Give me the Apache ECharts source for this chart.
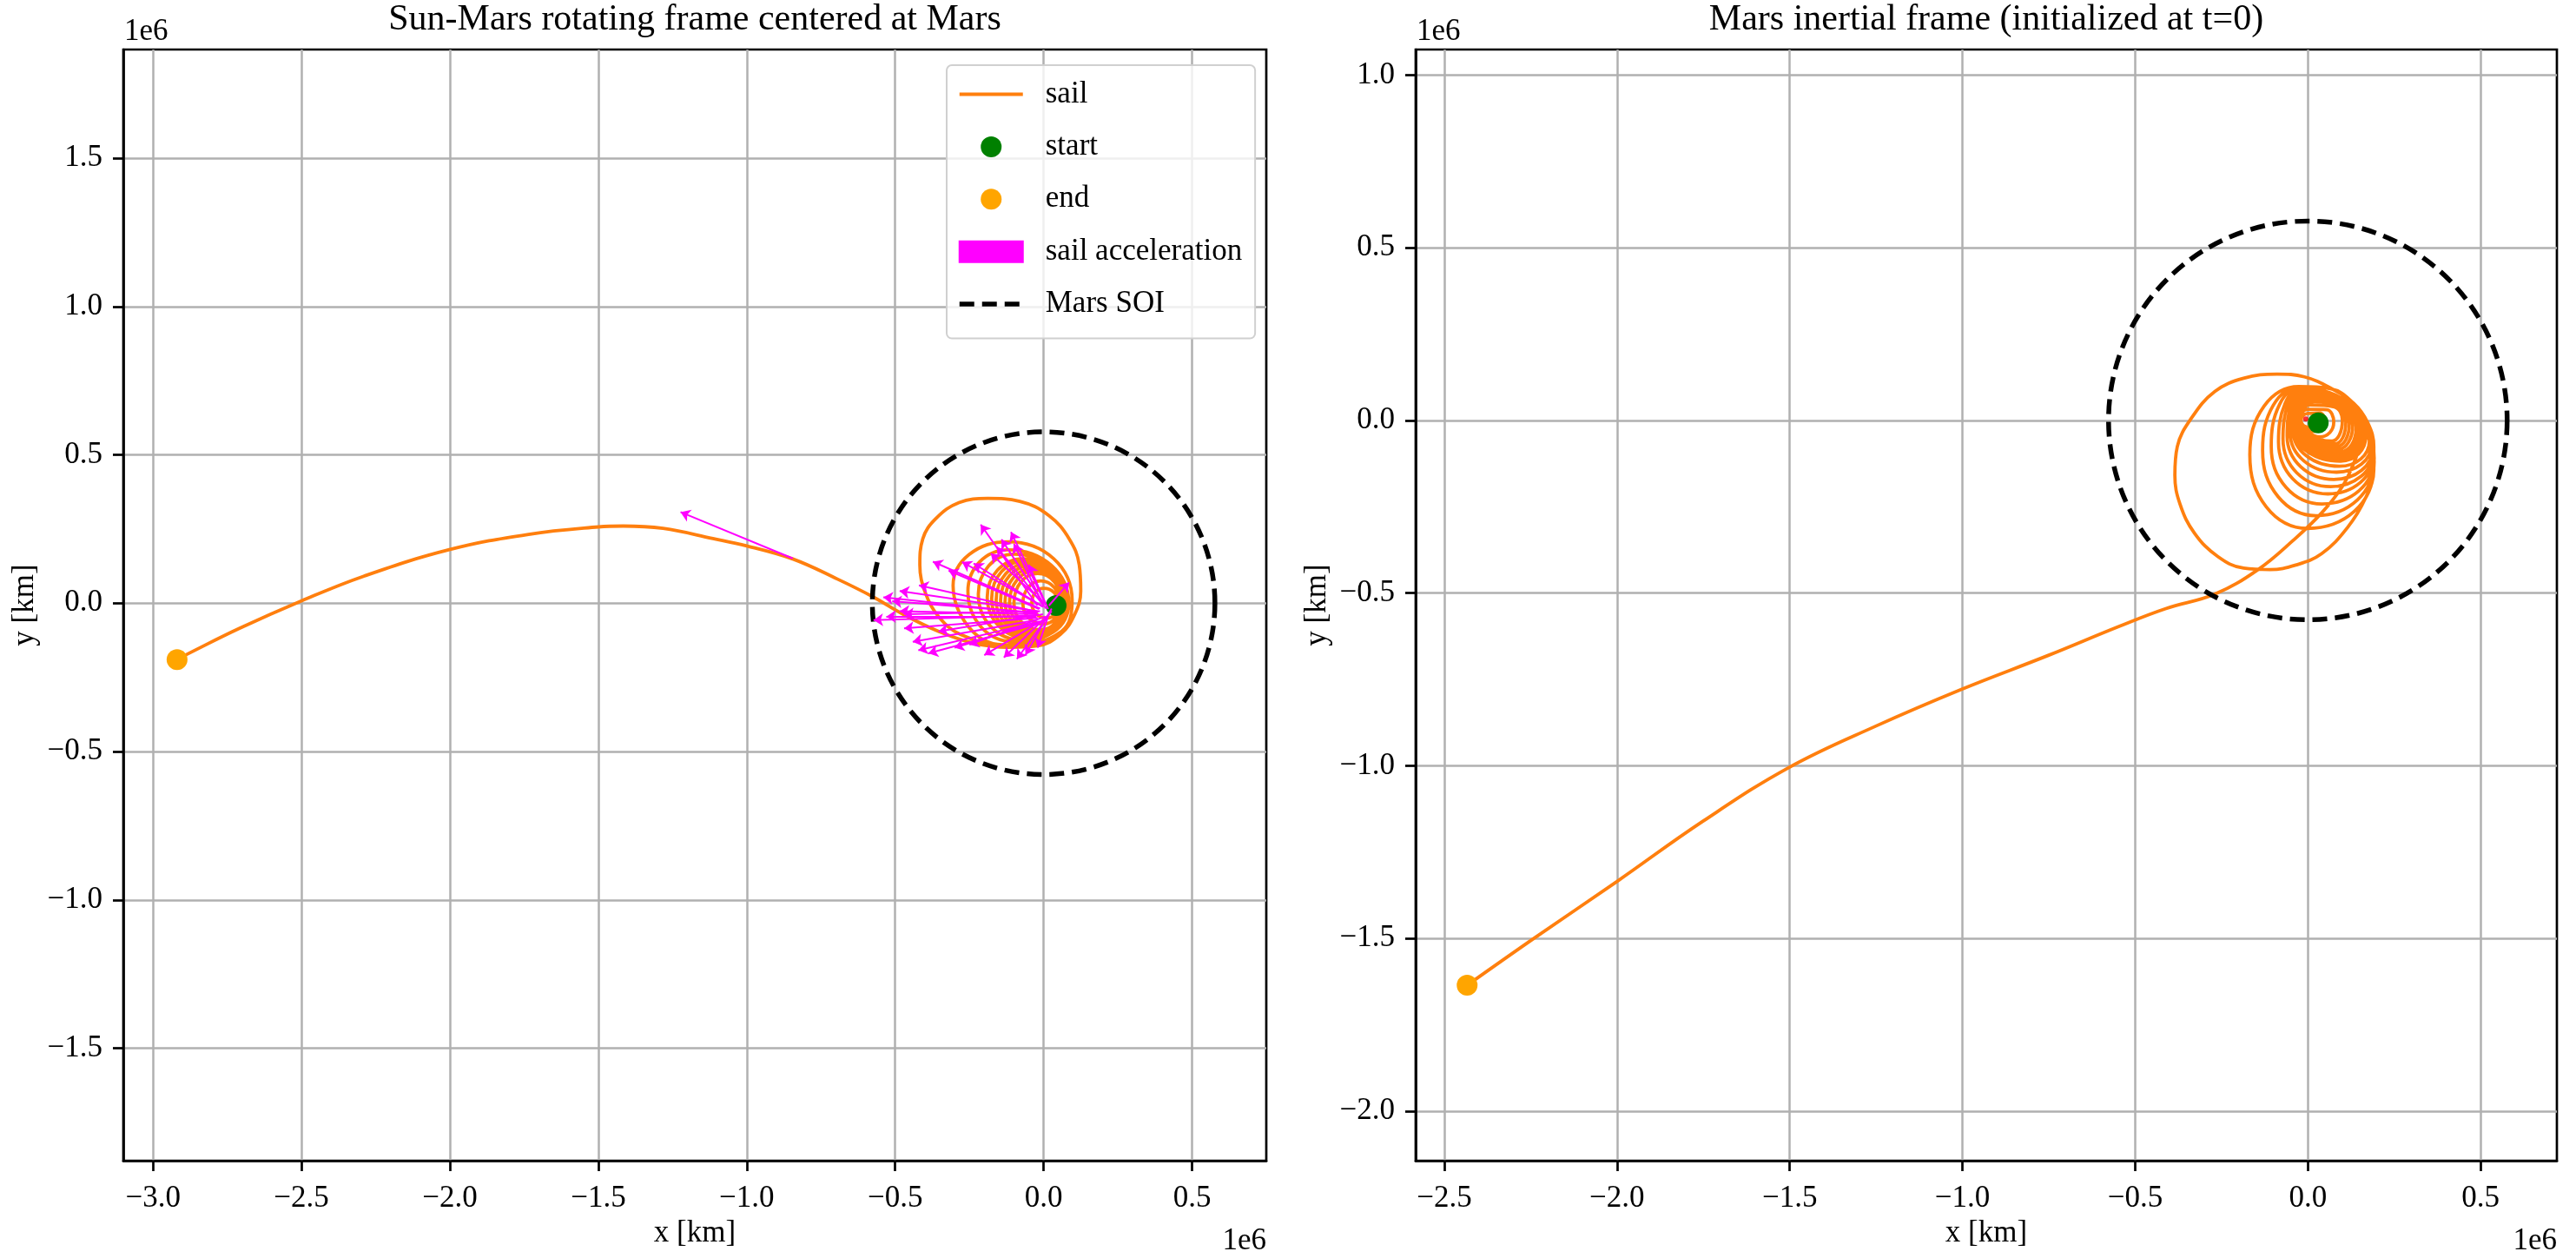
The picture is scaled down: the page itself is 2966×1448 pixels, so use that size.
<!DOCTYPE html>
<html>
<head>
<meta charset="utf-8">
<title>Sun-Mars sail trajectory</title>
<script src="https://cdn.jsdelivr.net/npm/echarts@6.0.0/dist/echarts.min.js"></script>
<style>
html, body { margin: 0; padding: 0; background: #ffffff; }
#main { width: 2966px; height: 1448px; }
</style>
</head>
<body>
<div id="main"></div>
<script>
// all positions in units of 1e6 km
// left panel: Sun-Mars rotating frame, trajectory from start to end
var leftSail = [
    [0.042, -0.008],
    [0.038, -0.036], [0.010, -0.050], [-0.025, -0.036], [-0.040, 0.000], [-0.028, 0.036], [0.000, 0.050], [0.035, 0.036], [0.050, 0.000],
    [0.039, -0.050], [0.000, -0.070], [-0.050, -0.050], [-0.070, 0.000], [-0.052, 0.053], [-0.010, 0.075], [0.036, 0.053], [0.055, 0.000],
    [0.040, -0.064], [-0.010, -0.090], [-0.074, -0.064], [-0.100, 0.000], [-0.077, 0.071], [-0.020, 0.100], [0.037, 0.071], [0.060, 0.000],
    [0.040, -0.068], [-0.015, -0.095], [-0.086, -0.067], [-0.115, 0.002], [-0.089, 0.079], [-0.025, 0.110], [0.037, 0.078], [0.062, -0.002],
    [0.040, -0.072], [-0.020, -0.100], [-0.098, -0.070], [-0.130, 0.005], [-0.101, 0.087], [-0.030, 0.120], [0.037, 0.084], [0.065, -0.005],
    [0.041, -0.077], [-0.025, -0.105], [-0.110, -0.072], [-0.145, 0.008], [-0.115, 0.093], [-0.040, 0.128], [0.037, 0.089], [0.068, -0.008],
    [0.041, -0.081], [-0.030, -0.110], [-0.122, -0.075], [-0.160, 0.010], [-0.128, 0.099], [-0.050, 0.135], [0.035, 0.093], [0.070, -0.010],
    [0.040, -0.085], [-0.040, -0.115], [-0.136, -0.077], [-0.175, 0.015], [-0.142, 0.106], [-0.060, 0.143], [0.034, 0.099], [0.072, -0.010],
    [0.039, -0.088], [-0.050, -0.120], [-0.149, -0.079], [-0.190, 0.020], [-0.155, 0.112], [-0.070, 0.150], [0.033, 0.104], [0.075, -0.010],
    [0.037, -0.090], [-0.070, -0.125], [-0.177, -0.080], [-0.220, 0.030], [-0.185, 0.126], [-0.100, 0.165], [0.028, 0.116], [0.080, -0.005],
    [0.031, -0.092], [-0.100, -0.130], [-0.210, -0.081], [-0.255, 0.040], [-0.216, 0.139], [-0.120, 0.180], [0.026, 0.128], [0.085, 0.000],
    [0.033, -0.097], [-0.140, -0.140], [-0.251, -0.082], [-0.305, 0.060], [-0.251, 0.164], [-0.119, 0.207], [0.034, 0.150], [0.096, 0.010],
    [0.060, -0.095], [-0.120, -0.145], [-0.280, -0.105], [-0.354, -0.045], [-0.397, 0.031], [-0.417, 0.129], [-0.407, 0.217], [-0.363, 0.285],
    [-0.285, 0.339], [-0.188, 0.353], [-0.080, 0.343], [0.018, 0.295], [0.086, 0.217], [0.120, 0.129], [0.125, 0.041], [0.105, -0.037],
    [0.057, -0.105], [-0.021, -0.144], [-0.119, -0.149], [-0.236, -0.135], [-0.354, -0.095], [-0.476, -0.036], [-0.576, 0.022], [-0.694, 0.081],
    [-0.845, 0.149], [-1.000, 0.193], [-1.114, 0.218], [-1.282, 0.252], [-1.416, 0.260], [-1.500, 0.257], [-1.735, 0.232], [-1.999, 0.181],
    [-2.290, 0.091], [-2.499, 0.008], [-2.709, -0.085], [-2.877, -0.168], [-2.919, -0.190]
];
var leftStart = [[0.042, -0.008]];
var leftEnd = [[-2.919, -0.190]];

// sail acceleration arrows (tail -> head)
var accTail = [
    [-0.021, -0.008], [-0.002, 0.002], [-0.012, -0.018], [-0.007, -0.008], [-0.002, -0.013], [0.003, -0.003],
    [-0.021, -0.027], [-0.021, -0.032], [-0.021, -0.037], [-0.031, -0.042], [-0.021, -0.056], [-0.012, -0.061],
    [-0.007, -0.066], [0.018, -0.037], [0.027, -0.027], [0.018, -0.008], [0.008, -0.018], [-0.012, -0.027],
    [-0.002, -0.037], [0.027, -0.018], [-0.015, -0.020], [0.000, -0.010], [-0.018, -0.030], [-0.025, -0.035],
    [-0.025, -0.045], [-0.020, -0.050], [0.000, -0.060], [0.010, -0.050], [0.010, -0.010], [0.015, -0.020],
    [0.005, -0.045], [0.020, -0.030], [-0.845, 0.151]
];
var accHead = [
    [-0.212, 0.265], [-0.142, 0.215], [-0.373, 0.140], [-0.275, 0.139], [-0.236, 0.134], [-0.178, 0.168],
    [-0.485, 0.041], [-0.510, 0.007], [-0.485, -0.027], [-0.573, -0.057], [-0.441, -0.130], [-0.422, -0.159],
    [-0.388, -0.169], [-0.134, -0.183], [-0.090, -0.188], [0.086, 0.070], [-0.158, 0.190], [-0.470, -0.037],
    [-0.354, -0.095], [-0.061, -0.174], [-0.320, 0.110], [-0.100, 0.200], [-0.420, 0.060], [-0.540, 0.020],
    [-0.530, -0.045], [-0.470, -0.085], [-0.300, -0.150], [-0.200, -0.175], [-0.110, 0.240], [-0.050, 0.130],
    [-0.250, -0.140], [-0.020, -0.150], [-1.223, 0.307]
];

// right panel: Mars inertial frame
var rightSail = [
    [0.028, -0.008],
    [0.021, 0.014], [0.030, -0.002], [0.022, -0.015], [0.005, -0.020], [-0.013, -0.015], [-0.020, 0.000], [-0.014, 0.014], [0.000, 0.020],
    [0.035, 0.021], [0.050, -0.005], [0.040, -0.024], [0.015, -0.032], [-0.007, -0.023], [-0.024, 0.000], [-0.017, 0.023], [0.000, 0.032],
    [0.055, 0.031], [0.075, -0.005], [0.064, -0.035], [0.035, -0.048], [0.001, -0.035], [-0.025, -0.003], [-0.016, 0.031], [0.005, 0.045],
    [0.077, 0.039], [0.100, 0.000], [0.091, -0.043], [0.070, -0.060], [0.006, -0.044], [-0.020, -0.005], [-0.008, 0.038], [0.020, 0.055],
    [0.083, 0.041], [0.110, -0.005], [0.101, -0.050], [0.078, -0.068], [0.005, -0.051], [-0.024, -0.008], [-0.013, 0.040], [0.015, 0.060],
    [0.088, 0.043], [0.120, -0.010], [0.110, -0.056], [0.085, -0.075], [0.005, -0.057], [-0.028, -0.012], [-0.017, 0.043], [0.010, 0.065],
    [0.094, 0.045], [0.130, -0.015], [0.118, -0.063], [0.090, -0.083], [0.004, -0.063], [-0.031, -0.015], [-0.021, 0.045], [0.005, 0.070],
    [0.099, 0.047], [0.140, -0.020], [0.127, -0.070], [0.095, -0.090], [0.003, -0.069], [-0.034, -0.018], [-0.024, 0.048], [0.000, 0.075],
    [0.104, 0.049], [0.148, -0.025], [0.133, -0.077], [0.097, -0.098], [0.002, -0.075], [-0.036, -0.020], [-0.026, 0.050], [-0.002, 0.079],
    [0.109, 0.050], [0.155, -0.030], [0.138, -0.083], [0.098, -0.105], [0.001, -0.081], [-0.038, -0.022], [-0.028, 0.052], [-0.005, 0.082],
    [0.113, 0.049], [0.162, -0.038], [0.143, -0.090], [0.097, -0.112], [0.000, -0.086], [-0.039, -0.024], [-0.030, 0.053], [-0.008, 0.085],
    [0.116, 0.049], [0.168, -0.045], [0.147, -0.097], [0.095, -0.118], [-0.001, -0.091], [-0.040, -0.025], [-0.031, 0.055], [-0.010, 0.087],
    [0.123, 0.047], [0.178, -0.060], [0.153, -0.112], [0.091, -0.133], [-0.004, -0.103], [-0.043, -0.028], [-0.034, 0.056], [-0.012, 0.090],
    [0.127, 0.045], [0.184, -0.070], [0.155, -0.127], [0.083, -0.150], [-0.012, -0.117], [-0.051, -0.037], [-0.040, 0.055], [-0.014, 0.092],
    [0.129, 0.043], [0.188, -0.080], [0.155, -0.145], [0.075, -0.171], [-0.021, -0.134], [-0.060, -0.045], [-0.047, 0.053], [-0.016, 0.093],
    [0.130, 0.041], [0.190, -0.090], [0.154, -0.162], [0.066, -0.192], [-0.032, -0.152], [-0.072, -0.054], [-0.056, 0.051], [-0.018, 0.094],
    [0.130, 0.038], [0.191, -0.100], [0.152, -0.180], [0.058, -0.213], [-0.044, -0.169], [-0.085, -0.062], [-0.066, 0.049], [-0.020, 0.095],
    [0.130, 0.036], [0.192, -0.110], [0.148, -0.204], [0.041, -0.242], [-0.063, -0.194], [-0.106, -0.075], [-0.082, 0.046], [-0.022, 0.096],
    [0.129, 0.034], [0.192, -0.120], [0.143, -0.231], [0.024, -0.276], [-0.086, -0.221], [-0.131, -0.087], [-0.100, 0.044], [-0.024, 0.097],
    [0.127, 0.029], [0.190, -0.140], [0.135, -0.263], [-0.001, -0.313], [-0.120, -0.251], [-0.168, -0.100], [-0.127, 0.041], [-0.026, 0.098],
    [0.065, 0.092], [0.132, 0.050], [0.174, -0.008], [0.191, -0.076], [0.191, -0.143], [0.166, -0.227], [0.115, -0.310], [0.040, -0.386],
    [-0.035, -0.419], [-0.110, -0.432], [-0.186, -0.428], [-0.261, -0.394], [-0.328, -0.327], [-0.370, -0.243], [-0.385, -0.159], [-0.378, -0.076],
    [-0.336, 0.008], [-0.269, 0.084], [-0.186, 0.122], [-0.089, 0.134], [-0.010, 0.126], [0.065, 0.094], [0.130, 0.050], [0.160, -0.010],
    [0.155, -0.060], [0.132, -0.126], [0.099, -0.193], [0.040, -0.268], [-0.043, -0.348], [-0.144, -0.432], [-0.269, -0.503], [-0.411, -0.545],
    [-0.545, -0.596], [-0.750, -0.680], [-1.003, -0.779], [-1.250, -0.885], [-1.502, -1.005], [-1.750, -1.160], [-2.001, -1.336],
    [-2.239, -1.499], [-2.434, -1.636]
];
var rightStart = [[0.030, -0.007]];
var rightEnd = [[-2.434, -1.636]];
var marsCenter = [[-0.006, 0.004]];

var soiRadius = 0.577;

var leftXTicks = [-3.0, -2.5, -2.0, -1.5, -1.0, -0.5, 0.0, 0.5];
var leftYTicks = [-1.5, -1.0, -0.5, 0.0, 0.5, 1.0, 1.5];
var rightXTicks = [-2.5, -2.0, -1.5, -1.0, -0.5, 0.0, 0.5];
var rightYTicks = [-2.0, -1.5, -1.0, -0.5, 0.0, 0.5, 1.0];

var FONT = "'Liberation Serif', 'Times New Roman', serif";

function tickText(v) {
    return (v < -1e-9 ? '\u2212' : '') + Math.abs(v).toFixed(1);
}

function makeXAxis(idx, min, max, ticks) {
    return {
        gridIndex: idx,
        type: 'value',
        min: min,
        max: max,
        name: 'x [km]',
        nameLocation: 'middle',
        nameGap: 64,
        nameTextStyle: { fontFamily: FONT, fontSize: 35, color: '#000' },
        axisLine: { show: true, onZero: false, lineStyle: { color: '#000', width: 2.7 } },
        axisTick: { show: true, customValues: ticks, length: 12, lineStyle: { color: '#000', width: 2.7 } },
        axisLabel: { customValues: ticks, formatter: tickText, margin: 26, fontFamily: FONT, fontSize: 35, color: '#000' },
        splitLine: { show: true, lineStyle: { color: '#b0b0b0', width: 2.5 } }
    };
}

function makeYAxis(idx, min, max, ticks) {
    return {
        gridIndex: idx,
        type: 'value',
        min: min,
        max: max,
        name: 'y [km]',
        nameLocation: 'middle',
        nameRotate: 90,
        nameGap: 96,
        nameTextStyle: { fontFamily: FONT, fontSize: 35, color: '#000' },
        axisLine: { show: true, onZero: false, lineStyle: { color: '#000', width: 2.7 } },
        axisTick: { show: true, customValues: ticks, length: 12, lineStyle: { color: '#000', width: 2.7 } },
        axisLabel: { customValues: ticks, formatter: tickText, margin: 24, fontFamily: FONT, fontSize: 35, color: '#000' },
        splitLine: { show: true, lineStyle: { color: '#b0b0b0', width: 2.5 } }
    };
}

function soiCircle(params, api) {
    var c = api.coord([api.value(0), api.value(1)]);
    var r = api.size([api.value(2), 0])[0];
    return {
        type: 'circle',
        shape: { cx: c[0], cy: c[1], r: r },
        style: { fill: 'none', stroke: '#000', lineWidth: 5.5, lineDash: [17, 9] }
    };
}

function arrowData() {
    var out = [];
    for (var i = 0; i < accTail.length; i++) {
        out.push({ coords: [accTail[i], accHead[i]] });
    }
    return out;
}

var chart = echarts.init(document.getElementById('main'));

var option = {
    animation: false,
    backgroundColor: '#ffffff',
    grid: [
        { left: 142, top: 57, width: 1316, height: 1279, show: true, borderColor: '#000', borderWidth: 2.7, backgroundColor: 'transparent' },
        { left: 1630, top: 57, width: 1314, height: 1279, show: true, borderColor: '#000', borderWidth: 2.7, backgroundColor: 'transparent' }
    ],
    xAxis: [
        makeXAxis(0, -3.1, 0.75, leftXTicks),
        makeXAxis(1, -2.583, 0.721, rightXTicks)
    ],
    yAxis: [
        makeYAxis(0, -1.879, 1.866, leftYTicks),
        makeYAxis(1, -2.144, 1.074, rightYTicks)
    ],
    legend: {
        orient: 'vertical',
        left: 1090,
        top: 75,
        padding: [16, 15, 22, 12],
        itemWidth: 73,
        itemHeight: 24,
        itemGap: 25.4,
        selectedMode: false,
        backgroundColor: 'rgba(255,255,255,0.8)',
        borderColor: '#d0d0d0',
        borderWidth: 2,
        borderRadius: 6,
        lineStyle: { width: 'inherit' },
        textStyle: { fontFamily: FONT, fontSize: 35, color: '#000', lineHeight: 24, padding: [0, 0, 0, 21] },
        data: [
            { name: 'sail', itemStyle: { opacity: 0 } },
            { name: 'start', icon: 'circle' },
            { name: 'end', icon: 'circle' },
            { name: 'sail acceleration', icon: 'rect', itemStyle: { color: '#ff00ff' } },
            { name: 'Mars SOI', itemStyle: { opacity: 0 } }
        ]
    },
    graphic: [
        { type: 'text', x: 800, y: 23, style: { text: 'Sun-Mars rotating frame centered at Mars', font: '42px ' + FONT, fill: '#000', align: 'center', verticalAlign: 'middle' } },
        { type: 'text', x: 2287, y: 23, style: { text: 'Mars inertial frame (initialized at t=0)', font: '42px ' + FONT, fill: '#000', align: 'center', verticalAlign: 'middle' } },
        { type: 'text', x: 143, y: 37, style: { text: '1e6', font: '35px ' + FONT, fill: '#000', align: 'left', verticalAlign: 'middle' } },
        { type: 'text', x: 1631, y: 37, style: { text: '1e6', font: '35px ' + FONT, fill: '#000', align: 'left', verticalAlign: 'middle' } },
        { type: 'text', x: 1458, y: 1429, style: { text: '1e6', font: '35px ' + FONT, fill: '#000', align: 'right', verticalAlign: 'middle' } },
        { type: 'text', x: 2944, y: 1429, style: { text: '1e6', font: '35px ' + FONT, fill: '#000', align: 'right', verticalAlign: 'middle' } }
    ],
    series: [
        {
            name: 'sail', type: 'line', xAxisIndex: 0, yAxisIndex: 0,
            data: leftSail, smooth: 0.4, symbol: 'none', z: 2,
            lineStyle: { color: '#ff7f0e', width: 3.8 }, itemStyle: { color: '#ff7f0e' }
        },
        {
            name: 'Mars SOI', type: 'line', xAxisIndex: 0, yAxisIndex: 0,
            data: [], symbol: 'none',
            lineStyle: { color: '#000', width: 5.5, type: [17, 9] }, itemStyle: { color: '#000' }
        },
        {
            name: 'Mars SOI', type: 'custom', xAxisIndex: 0, yAxisIndex: 0,
            data: [[0, 0, soiRadius]], encode: { x: 0, y: 1 }, renderItem: soiCircle, z: 3, silent: true
        },
        {
            name: 'start', type: 'scatter', xAxisIndex: 0, yAxisIndex: 0,
            data: leftStart, symbolSize: 24, itemStyle: { color: '#008000', opacity: 1 }, z: 4
        },
        {
            name: 'end', type: 'scatter', xAxisIndex: 0, yAxisIndex: 0,
            data: leftEnd, symbolSize: 24, itemStyle: { color: '#ffa500', opacity: 1 }, z: 4
        },
        {
            name: 'sail acceleration', type: 'lines', coordinateSystem: 'cartesian2d', xAxisIndex: 0, yAxisIndex: 0,
            data: arrowData(), symbol: ['none', 'arrow'], symbolSize: 11, z: 5,
            lineStyle: { color: '#ff00ff', width: 2, opacity: 1, curveness: 0 }
        },
        {
            name: 'sail', type: 'line', xAxisIndex: 1, yAxisIndex: 1,
            data: rightSail, smooth: 0.4, symbol: 'none', z: 2,
            lineStyle: { color: '#ff7f0e', width: 3.8 }, itemStyle: { color: '#ff7f0e' }
        },
        {
            name: 'Mars SOI', type: 'custom', xAxisIndex: 1, yAxisIndex: 1,
            data: [[0, 0, soiRadius]], encode: { x: 0, y: 1 }, renderItem: soiCircle, z: 3, silent: true
        },
        {
            name: 'Mars', type: 'scatter', xAxisIndex: 1, yAxisIndex: 1,
            data: marsCenter, symbolSize: 6, itemStyle: { color: '#ff0000' }, z: 4
        },
        {
            name: 'start', type: 'scatter', xAxisIndex: 1, yAxisIndex: 1,
            data: rightStart, symbolSize: 24, itemStyle: { color: '#008000', opacity: 1 }, z: 4
        },
        {
            name: 'end', type: 'scatter', xAxisIndex: 1, yAxisIndex: 1,
            data: rightEnd, symbolSize: 24, itemStyle: { color: '#ffa500', opacity: 1 }, z: 4
        }
    ]
};
chart.setOption(option);
</script>
</body>
</html>
